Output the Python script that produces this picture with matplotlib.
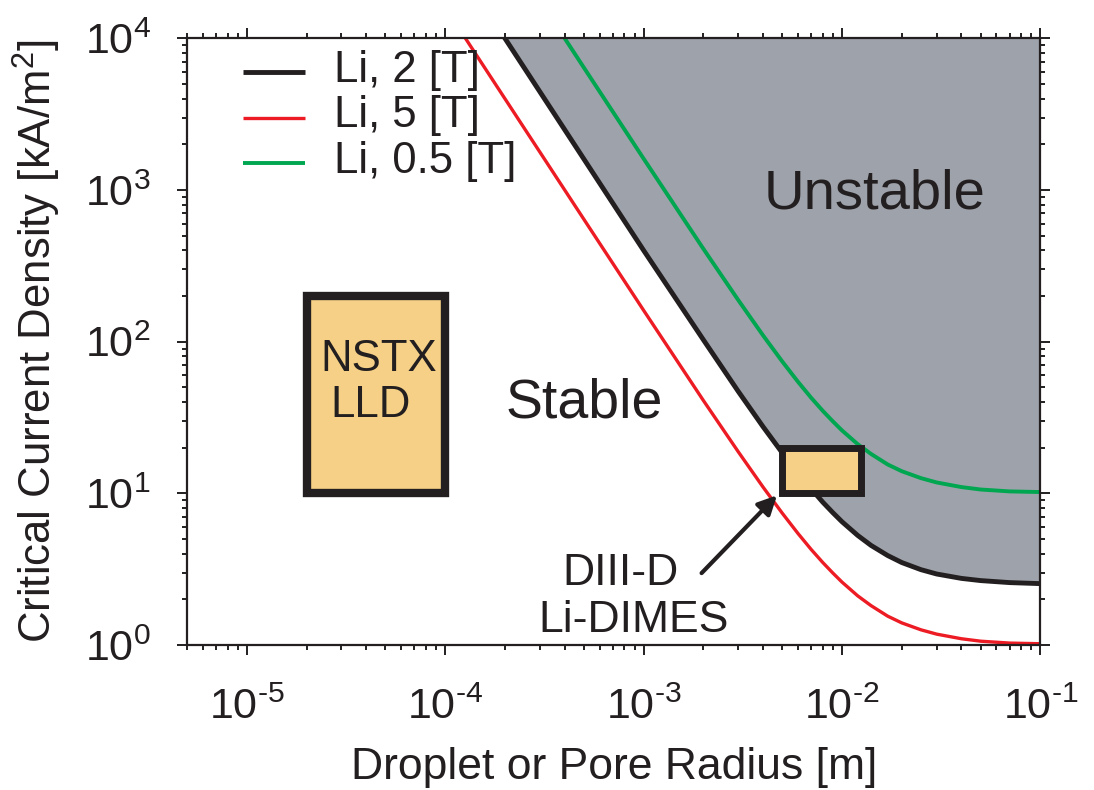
import numpy as np
import matplotlib
matplotlib.use("Agg")
import matplotlib.pyplot as plt
from matplotlib.patches import Rectangle
from matplotlib.ticker import FuncFormatter

plt.rcParams['font.family'] = ['Liberation Sans', 'DejaVu Sans']
plt.rcParams['mathtext.fontset'] = 'custom'
plt.rcParams['mathtext.rm'] = 'Liberation Sans'
plt.rcParams['mathtext.it'] = 'Liberation Sans:italic'
plt.rcParams['mathtext.bf'] = 'Liberation Sans:bold'
plt.rcParams['axes.unicode_minus'] = False

# droplet / pore radius [m]
radius = [1e-4, 2e-4, 5e-4, 1e-3, 2e-3, 3e-3, 4e-3, 5e-3, 6e-3, 7e-3, 8e-3, 9e-3,
          1e-2, 1.2e-2, 1.4e-2, 1.7e-2, 2e-2, 2.5e-2, 3e-2, 4e-2, 5e-2, 7e-2, 1e-1]
# critical current density [kA/m^2]
j_2T = [40000, 10000, 1600, 400, 103, 47, 27.5, 18.5, 13.6, 10.7, 8.75, 7.45,
        6.5, 5.28, 4.54, 3.89, 3.5, 3.14, 2.94, 2.75, 2.66, 2.58, 2.54]
j_5T = [16000, 4000, 641, 161, 41, 18.8, 11.0, 7.4, 5.44, 4.26, 3.5, 2.98,
        2.6, 2.11, 1.82, 1.55, 1.4, 1.26, 1.18, 1.1, 1.06, 1.03, 1.02]
j_05T = [160000, 40000, 6410, 1610, 410, 188, 110, 74, 54.4, 42.6, 35, 29.8,
         26, 21.1, 18.2, 15.5, 14, 12.6, 11.8, 11, 10.6, 10.3, 10.2]

labels = ["Li, 2 [T]", "Li, 5 [T]", "Li, 0.5 [T]"]
colors = ["#231f20", "#ed1c24", "#00a650"]

# experiments: (r_min, r_max, j_min, j_max)
nstx_box = (2e-5, 1e-4, 10, 200)
dimes_box = (5e-3, 1.25e-2, 10, 20)

fig = plt.figure(figsize=(10.94, 7.90), dpi=100)
ax = fig.add_axes([0.171, 0.1835, 0.780, 0.768])

ax.fill_between(radius, j_2T, 1e6, color="#9ea2aa", lw=0, zorder=1)
lines = []
for j, c, lw in zip([j_2T, j_5T, j_05T], colors, [3.5, 2.4, 2.8]):
    l, = ax.plot(radius, j, color=c, lw=lw, zorder=3, solid_capstyle='butt')
    lines.append(l)

for (x0, x1, y0, y1), lw in [(nstx_box, 6), (dimes_box, 5)]:
    ax.add_patch(Rectangle((x0, y0), x1 - x0, y1 - y0, facecolor="#f5d086",
                           edgecolor="#231f20", lw=lw, zorder=4, joinstyle='miter'))

ax.set_xscale('log')
ax.set_yscale('log')
ax.set_xlim(5e-6, 1e-1)
ax.set_ylim(1, 1e4)


def pow10(v, pos):
    e = int(round(np.log10(v)))
    return r"$\mathdefault{10^{\text{%d}}}$" % e


ax.xaxis.set_major_formatter(FuncFormatter(pow10))
ax.yaxis.set_major_formatter(FuncFormatter(pow10))

ax.annotate("", xy=(4.7e-3, 9.7), xytext=(1.96e-3, 2.98),
            arrowprops=dict(arrowstyle='-|>', color="#231f20", lw=3,
                            mutation_scale=28, shrinkA=0, shrinkB=0), zorder=5)

tc = "#231f20"
ax.text(5.0e-4, 31.8, "Stable", fontsize=40, ha='center', va='baseline', color=tc)
ax.text(1.46e-2, 759, "Unstable", fontsize=40.5, ha='center', va='baseline', color=tc)
ax.text(4.63e-5, 64, "NSTX", fontsize=31.5, ha='center', va='baseline', color=tc, zorder=6)
ax.text(4.22e-5, 31.8, "LLD", fontsize=31.5, ha='center', va='baseline', color=tc, zorder=6)
ax.text(7.66e-4, 2.48, "DIII-D", fontsize=32, ha='center', va='baseline', color=tc)
ax.text(8.9e-4, 1.22, "Li-DIMES", fontsize=32, ha='center', va='baseline', color=tc)

# legend drawn by hand to get the tight row spacing
for i, (lab, c, l) in enumerate(zip(labels, colors, lines)):
    yy = 0.944 - i * 0.075
    ax.plot([0.0657, 0.1383], [yy, yy], color=c, lw=l.get_linewidth(),
            transform=ax.transAxes, zorder=6, solid_capstyle='butt')
    ax.text(0.1723, yy + 0.003, lab, fontsize=31.5, ha='left', va='center',
            transform=ax.transAxes, color=tc, zorder=6)

ax.set_xlabel("Droplet or Pore Radius [m]", fontsize=32, color=tc, labelpad=13)
ax.set_ylabel("Critical Current Density [kA/m$^2$]", fontsize=31.5, color=tc, labelpad=16)

ax.tick_params(which='both', direction='out', top=True, right=True, width=1.4,
               colors=tc, labelsize=31)
ax.tick_params(which='major', length=7)
ax.tick_params(which='minor', length=3.6)
ax.tick_params(axis='x', which='both', pad=24)
ax.tick_params(axis='y', which='both', pad=19)
for s in ax.spines.values():
    s.set_linewidth(1.6)
    s.set_color(tc)
    s.set_zorder(7)

fig.savefig("out.png", dpi=100)
